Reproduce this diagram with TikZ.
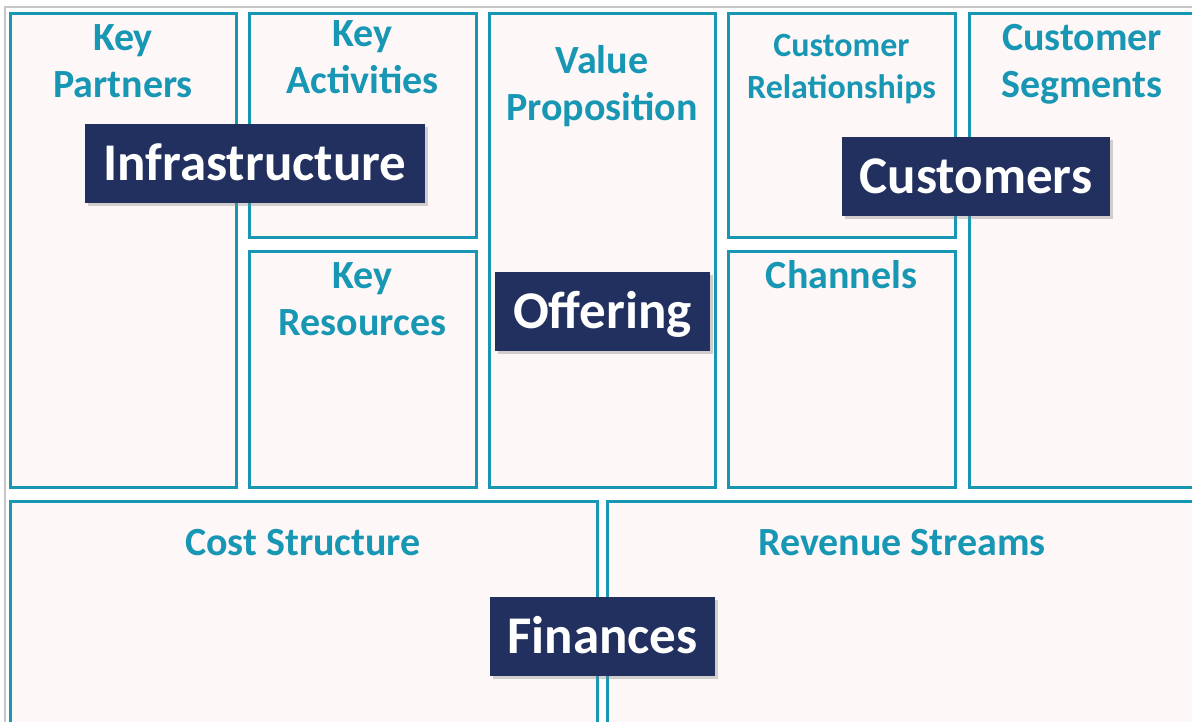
\documentclass[tikz,border=0pt]{standalone}
\usepackage{fontspec}
\setmainfont{Carlito}
\usetikzlibrary{positioning,shadows}

\definecolor{canvasteal}{HTML}{1897B4}
\definecolor{canvaspink}{HTML}{FDF7F7}
\definecolor{canvasnavy}{HTML}{22305F}

\begin{document}
\begin{tikzpicture}[
  x=1pt, y=-1pt,
  cell/.style ={draw=canvasteal, line width=3pt, fill=canvaspink, inner sep=0pt},
  title/.style={text=canvasteal, font=\bfseries\fontsize{40}{47}\selectfont,
                align=center, inner sep=0pt, anchor=base},
  small/.style={title, font=\bfseries\fontsize{34}{42}\selectfont},
  tag/.style  ={fill=canvasnavy, text=white, font=\bfseries\fontsize{53}{60}\selectfont,
                inner sep=0pt, minimum height=79pt, text height=36pt, text depth=2pt,
                drop shadow={opacity=0.35, shadow xshift=3pt, shadow yshift=-3pt}}
]
\useasboundingbox (0,0) rectangle (1192,722);
\clip (0,0) rectangle (1192,722);
\draw[gray!45, line width=2pt] (5,740) |- (1210,7);

\node[cell, minimum width=226pt, minimum height=473pt] (kp) at (123,250.5) {};
\node[cell, minimum width=227pt, minimum height=224pt] (ka) at (362.5,126) {};
\node[cell, minimum width=227pt, minimum height=235pt] (kr) at (362.5,369.5) {};
\node[cell, minimum width=226pt, minimum height=473pt] (vp) at (602,250.5) {};
\node[cell, minimum width=227pt, minimum height=224pt] (cr) at (841.5,126) {};
\node[cell, minimum width=227pt, minimum height=235pt] (ch) at (841.5,369.5) {};
\node[cell, minimum width=227pt, minimum height=473pt] (cs) at (1082.5,250.5) {};
\node[cell, minimum width=587pt, minimum height=260pt] (cost) at (303.5,631) {};
\node[cell, minimum width=589pt, minimum height=260pt] (rev) at (901.5,631) {};

% anchor=base sits on the last line
\node[title] (kpT)   at (123,97.5)    {Key\\Partners};
\node[title] (kaT)   at (362.5,93.5)  {Key\\Activities};
\node[title] (krT)   at (362.5,335.5) {Key\\Resources};
\node[title] (vpT)   at (602,120.5)   {Value\\Proposition};
\node[small] (crT)   at (841.5,99)    {Customer\\Relationships};
\node[title] (chT)   at (841.5,288.5) {Channels};
\node[title] (csT)   at (1082,97.5)   {Customer\\Segments};
\node[title] (costT) at (303,555.5)   {Cost Structure};
\node[title] (revT)  at (902,555.5)   {Revenue Streams};

\node[tag, minimum width=340pt] (infra) at (255,163.5)   {Infrastructure};
\node[tag, minimum width=268pt] (cust)  at (976,176.5)   {Customers};
\node[tag, minimum width=215pt] (offer) at (602.5,311.5) {Offering};
\node[tag, minimum width=225pt] (fin)   at (602.5,636)   {Finances};
\end{tikzpicture}
\end{document}
